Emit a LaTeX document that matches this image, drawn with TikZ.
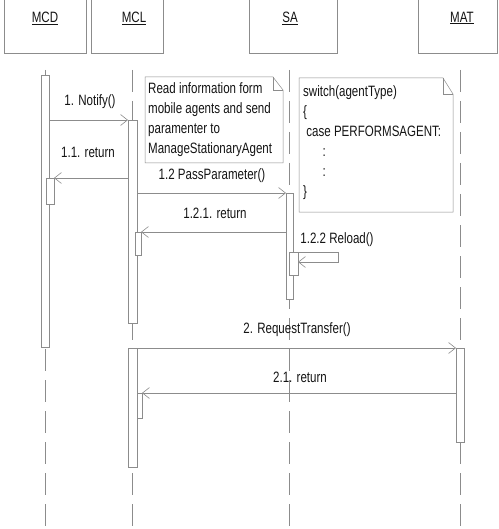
\documentclass[tikz,border=0pt]{standalone}
\usepackage{fontspec}
\setmainfont[FakeStretch=0.77]{Liberation Sans}
\usetikzlibrary{arrows.meta}
\definecolor{lncol}{gray}{0.55}
\definecolor{txtcol}{gray}{0.08}
\tikzset{
  every node/.style={text=txtcol, font=\fontsize{15}{20}\selectfont},
  headbox/.style={draw=lncol, line width=0.5pt, minimum height=58pt, inner sep=0pt},
  lifeline/.style={draw=lncol, line width=0.5pt, dash pattern=on 22pt off 9pt},
  actbox/.style={draw=lncol, fill=white, line width=0.5pt},
  msg/.style={draw=lncol, line width=0.5pt, -{Straight Barb[length=7pt,width=11pt,line width=0.6pt]}},
  notebox/.style={draw=lncol, line width=0.5pt},
  lbl/.style={inner sep=0pt},
  notetext/.style={inner sep=0pt, align=left, anchor=north west}
}
\begin{document}
\begin{tikzpicture}[x=1pt, y=-1pt]
\useasboundingbox (0,0) rectangle (498,529);
\fill[white] (0,0) rectangle (498,529);

% heads
\node[headbox, minimum width=82pt] (hMCD) at (45,24) {};
\node[headbox, minimum width=72pt] (hMCL) at (127,24) {};
\node[headbox, minimum width=88pt] (hSA)  at (293,24) {};
\node[headbox, minimum width=79pt] (hMAT) at (457.5,24) {};
\node[lbl] (tMCD) at (45,18) {\underline{MCD}};
\node[lbl] (tMCL) at (134,18) {\underline{MCL}};
\node[lbl] (tSA)  at (290,18) {\underline{SA}};
\node[lbl] (tMAT) at (462,18) {\underline{MAT}};

% lifelines
\draw[lifeline] (45,70) -- (45,529);
\draw[lifeline] (132,70) -- (132,529);
\draw[lifeline] (289,70) -- (289,529);
\draw[lifeline] (460,70) -- (460,529);

% activations
\draw[actbox] (41,75) rectangle (49,347);
\draw[actbox] (46,178) rectangle (54,204);
\draw[actbox] (128,120) rectangle (137,323);
\draw[actbox] (135,232) rectangle (141,255);
\draw[actbox] (286,193) rectangle (293,299);
\draw[actbox] (289,252) rectangle (298,275);
\draw[actbox] (128,348) rectangle (137,467);
\draw[actbox] (137,393) rectangle (142,418);
\draw[actbox] (456,348) rectangle (464,442);

% notes
\draw[notebox] (145,77) -- (273,77) -- (283,90) -- (283,163) -- (145,163) -- cycle;
\draw[notebox] (273,77) -- (273,90) -- (283,90);
\node[notetext] (note1) at (148,82) {Read information form\\mobile agents and send\\paramenter to\\ManageStationaryAgent};

\draw[notebox] (299,78) -- (443,78) -- (453,94) -- (453,212) -- (299,212) -- cycle;
\draw[notebox] (443,78) -- (443,94) -- (453,94);
\node[notetext] (note2) at (303,85) {switch(agentType)\\{\{}\\\ case PERFORMSAGENT:\\\hspace{1.3em}:\\\hspace{1.3em}:\\{\}}};

% message end points
\coordinate (m1a) at (49,120);  \coordinate (m1b) at (128,120);
\coordinate (r1a) at (128,178); \coordinate (r1b) at (54,178);
\coordinate (m2a) at (137,193); \coordinate (m2b) at (286,193);
\coordinate (r2a) at (286,232); \coordinate (r2b) at (141,232);
\coordinate (s1a) at (293,252); \coordinate (s1c) at (338,252);
\coordinate (s1d) at (338,262); \coordinate (s1b) at (298,262);
\coordinate (m3a) at (137,348); \coordinate (m3b) at (456,348);
\coordinate (r3a) at (456,393); \coordinate (r3b) at (142,393);

\draw[msg] (m1a) -- (m1b);
\draw[msg] (r1a) -- (r1b);
\draw[msg] (m2a) -- (m2b);
\draw[msg] (r2a) -- (r2b);
\draw[msg] (s1a) -- (s1c) -- (s1d) -- (s1b);
\draw[msg] (m3a) -- (m3b);
\draw[msg] (r3a) -- (r3b);

% labels
\node[lbl] (l1)  at (90,102)  {1. Notify()};
\node[lbl] (l11) at (88,152)  {1.1. return};
\node[lbl] (l12) at (212,176) {1.2 PassParameter()};
\node[lbl] (l121) at (215,213) {1.2.1. return};
\node[lbl] (l122) at (337,240) {1.2.2 Reload()};
\node[lbl] (l2)  at (297,330) {2. RequestTransfer()};
\node[lbl] (l21) at (300,377) {2.1. return};
\end{tikzpicture}
\end{document}
